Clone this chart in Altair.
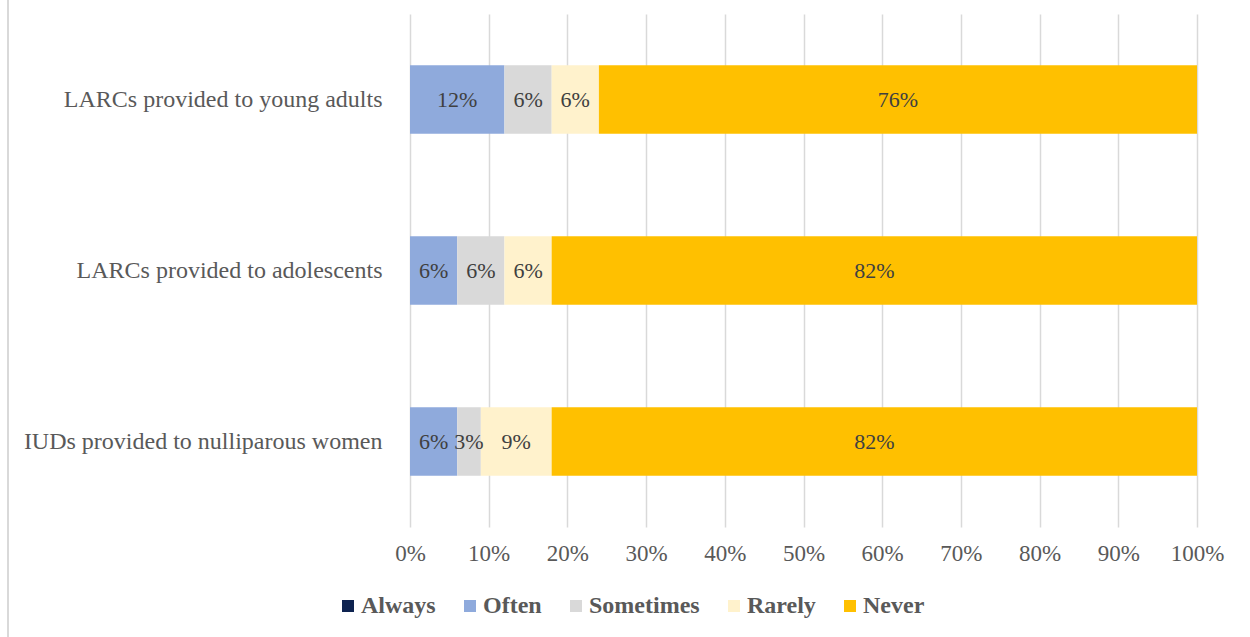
import altair as alt
import pandas as pd

categories = ["LARCs provided to young adults", "LARCs provided to adolescents", "IUDs provided to nulliparous women"]
responses = ["Always", "Often", "Sometimes", "Rarely", "Never"]
colors = ["#0E2350", "#8FAADC", "#D9D9D9", "#FFF2CC", "#FFC000"]
always = [0, 0, 0]
often = [12, 6, 6]
sometimes = [6, 6, 3]
rarely = [6, 6, 9]
never = [76, 82, 82]
ticks = [0, 10, 20, 30, 40, 50, 60, 70, 80, 90, 100]

series = [always, often, sometimes, rarely, never]
rows = []
for ri, (resp, vals) in enumerate(zip(responses, series)):
    for ci, cat in enumerate(categories):
        rows.append({"category": cat, "response": resp, "order": ri, "value": vals[ci]})
df = pd.DataFrame(rows)

FONT = "Liberation Serif"

base = alt.Chart(df).transform_stack(
    stack="value", groupby=["category"], as_=["x0", "x1"], sort=[alt.SortField("order")]
).transform_calculate(mid="(datum.x0 + datum.x1) / 2")

ycat = alt.Y("category:N", sort=categories, title=None,
             scale=alt.Scale(paddingInner=0.6, paddingOuter=0.3),
             axis=alt.Axis(labelFont=FONT, labelFontSize=24, labelColor="#595959",
                           labelPadding=28, ticks=False, domain=False, grid=False,
                           labelLimit=420))

bars = base.mark_bar().encode(
    x=alt.X("x0:Q", scale=alt.Scale(domain=[0, 100]), title=None,
            axis=alt.Axis(values=ticks, labelExpr="datum.value + '%'", labelFont=FONT,
                          labelFontSize=23, labelColor="#595959", labelPadding=15,
                          labelFlush=False,
                          ticks=False, domain=False, grid=True, gridColor="#D9D9D9",
                          gridWidth=1.5)),
    x2="x1:Q",
    y=ycat,
    color=alt.Color("response:N", sort=responses,
                    scale=alt.Scale(domain=responses, range=colors),
                    legend=alt.Legend(title=None, orient="none", direction="horizontal",
                                      legendX=-74, legendY=580, symbolType="square",
                                      symbolSize=144, symbolStrokeWidth=0,
                                      labelFont=FONT, labelFontSize=24, labelFontWeight="bold",
                                      labelColor="#595959", columnPadding=22,
                                      labelOffset=1)),
)

texts = base.transform_filter("datum.value > 0").mark_text(
    font=FONT, fontSize=22, color="#404040"
).encode(
    x=alt.X("mid:Q"),
    y=alt.Y("category:N", sort=categories),
    text=alt.Text("label:N"),
).transform_calculate(label="datum.value + '%'")

border = alt.Chart(pd.DataFrame({"a": [0]})).mark_rule(color="#D9D9D9", strokeWidth=2).encode(
    x=alt.value(-402), y=alt.value(-14), y2=alt.value(623)
)

chart = alt.layer(bars, texts, border).properties(
    width=787, height=513,
    background="white",
    autosize=alt.AutoSizeParams(type="none"),
    padding={"left": 410, "top": 14, "right": 53, "bottom": 110},
).configure_view(strokeWidth=0).configure_axis(domain=False)

chart.save("out.html", embed_options={"renderer": "svg", "actions": False})
